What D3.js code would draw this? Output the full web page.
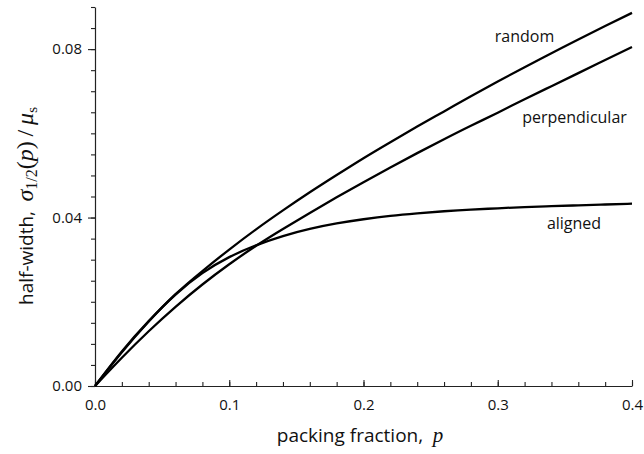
<!DOCTYPE html>
<html>
<head>
<meta charset="utf-8">
<script src="https://cdn.jsdelivr.net/npm/d3@7"></script>
<style>
  html, body { margin: 0; padding: 0; background: #fff; }
  svg { display: block; }
  text { font-family: "Open Sans", "Liberation Sans", sans-serif; fill: #111; }
  .math { font-family: "Liberation Serif", "DejaVu Serif", serif; }
</style>
</head>
<body>
<svg id="chart" width="644" height="454"></svg>
<script>
// packing fraction samples
const packing = [0.00, 0.02, 0.04, 0.06, 0.08, 0.10, 0.12, 0.14, 0.16, 0.18, 0.20,
                 0.22, 0.24, 0.26, 0.28, 0.30, 0.32, 0.34, 0.36, 0.38, 0.40];

// half-width sigma_1/2(p) / mu_s for each orientation
const random = [0.0000, 0.0080, 0.0153, 0.0218, 0.0273, 0.0324, 0.0372, 0.0417, 0.0460, 0.0501, 0.0541,
                0.0579, 0.0616, 0.0652, 0.0688, 0.0723, 0.0757, 0.0790, 0.0823, 0.0855, 0.0886];
const perpendicular = [0.0000, 0.0067, 0.0130, 0.0188, 0.0241, 0.0289, 0.0333, 0.0373, 0.0411, 0.0448, 0.0484,
                       0.0519, 0.0553, 0.0586, 0.0618, 0.0649, 0.0681, 0.0712, 0.0743, 0.0774, 0.0805];
const aligned = [0.0000, 0.0082, 0.0154, 0.0217, 0.0268, 0.0306, 0.0334, 0.0356, 0.0373, 0.0386, 0.0396,
                 0.0404, 0.0410, 0.0415, 0.0419, 0.0422, 0.0425, 0.0427, 0.0429, 0.0431, 0.0433];

const seriesNames = ["random", "perpendicular", "aligned"];
const seriesValues = [random, perpendicular, aligned];

const xTicks = [0.0, 0.1, 0.2, 0.3, 0.4];
const xMinorTicks = d3.range(0, 0.4001, 0.02);
const yTicks = [0.00, 0.04, 0.08];
const yMinorTicks = d3.range(0, 0.0901, 0.005);

const svg = d3.select("#chart");
const x = d3.scaleLinear().domain([0, 0.4]).range([95, 632]);
const y = d3.scaleLinear().domain([0, 0.09]).range([386, 7]);

// minor ticks
const xAxisMinor = d3.axisBottom(x).tickValues(xMinorTicks).tickSize(-4).tickFormat("");
const yAxisMinor = d3.axisLeft(y).tickValues(yMinorTicks).tickSize(4).tickFormat("");
svg.append("g").attr("transform", `translate(0,${y(0)})`).call(xAxisMinor)
  .call(g => g.select(".domain").remove());
svg.append("g").attr("transform", `translate(${x(0)},0)`).call(yAxisMinor)
  .call(g => g.select(".domain").remove());

// major axes
const xAxis = d3.axisBottom(x).tickValues(xTicks).tickSize(-6).tickSizeOuter(0)
  .tickPadding(13).tickFormat(d3.format(".1f"));
const yAxis = d3.axisLeft(y).tickValues(yTicks).tickSize(7).tickSizeOuter(0)
  .tickPadding(6).tickFormat(d3.format(".2f"));

svg.append("g").attr("transform", `translate(0,${y(0)})`).call(xAxis)
  .call(g => g.selectAll("text").attr("font-size", 15).attr("font-family", "Open Sans"));
svg.append("g").attr("transform", `translate(${x(0)},0)`).call(yAxis)
  .call(g => g.selectAll("text").attr("font-size", 15).attr("font-family", "Open Sans"));

svg.selectAll(".domain").attr("stroke", "#222").attr("stroke-width", 1.2);
svg.selectAll(".tick line").attr("stroke", "#222").attr("stroke-width", 1.1);

// curves
const line = d3.line()
  .x((d, i) => x(packing[i]))
  .y(d => y(d))
  .curve(d3.curveNatural);

svg.append("g").selectAll("path")
  .data(seriesValues)
  .join("path")
  .attr("d", d => line(d))
  .attr("fill", "none")
  .attr("stroke", "#000")
  .attr("stroke-width", 2.3)
  .attr("stroke-linejoin", "round");

// curve labels
const labelPos = [
  { name: "random", px: 524.5, py: 42 },
  { name: "perpendicular", px: 574.5, py: 123 },
  { name: "aligned", px: 574, py: 229 }
];
svg.append("g").selectAll("text")
  .data(labelPos)
  .join("text")
  .attr("x", d => d.px)
  .attr("y", d => d.py)
  .attr("text-anchor", "middle")
  .attr("font-size", 16)
  .text(d => d.name);

// x axis title
const xt = svg.append("text")
  .attr("x", 360).attr("y", 442)
  .attr("text-anchor", "middle")
  .attr("font-size", 19);
xt.append("tspan").text("packing fraction,\u2002");
xt.append("tspan").attr("class", "math").attr("font-style", "italic").attr("font-size", 21).text("p");

// y axis title
const yt = svg.append("text")
  .attr("transform", "translate(33,206) rotate(-90)")
  .attr("text-anchor", "middle")
  .attr("font-size", 19);
yt.append("tspan").text("half-width,\u2002");
yt.append("tspan").attr("class", "math").attr("font-style", "italic").attr("font-size", 24).text("σ");
yt.append("tspan").attr("class", "math").attr("font-size", 16).attr("dy", 4).text("1/2");
yt.append("tspan").attr("class", "math").attr("font-size", 24).attr("dy", -4).text("(");
yt.append("tspan").attr("class", "math").attr("font-style", "italic").attr("font-size", 24).text("p");
yt.append("tspan").attr("class", "math").attr("font-size", 24).text(")\u2009/\u2009");
yt.append("tspan").attr("class", "math").attr("font-style", "italic").attr("font-size", 24).text("μ");
yt.append("tspan").attr("class", "math").attr("font-size", 15).attr("dy", 4).text("s");
</script>
</body>
</html>
